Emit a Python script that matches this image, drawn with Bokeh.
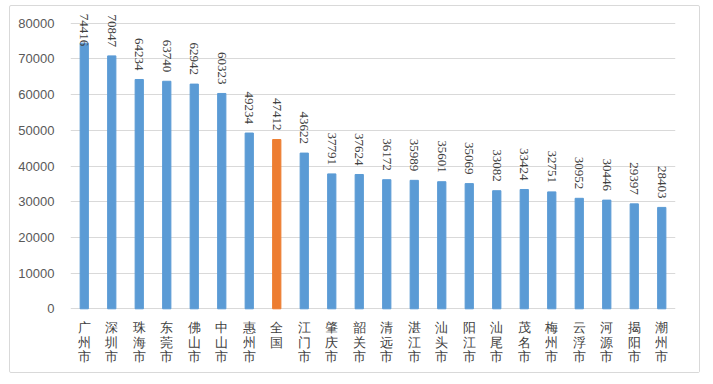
import numpy as np
from bokeh.plotting import figure
from bokeh.models import ColumnDataSource, LabelSet, Range1d, FixedTicker, NumeralTickFormatter
from bokeh.embed import file_html
from bokeh.resources import INLINE

cities = ["广州市", "深圳市", "珠海市", "东莞市", "佛山市", "中山市", "惠州市", "全国",
          "江门市", "肇庆市", "韶关市", "清远市", "湛江市", "汕头市", "阳江市", "汕尾市",
          "茂名市", "梅州市", "云浮市", "河源市", "揭阳市", "潮州市"]
values = [74416, 70847, 64234, 63740, 62942, 60323, 49234, 47412,
          43622, 37791, 37624, 36172, 35989, 35601, 35069, 33082,
          33424, 32751, 30952, 30446, 29397, 28403]
y_ticks = [0, 10000, 20000, 30000, 40000, 50000, 60000, 70000, 80000]

BLUE = "#5b9bd5"
ORANGE = "#ed7d31"
colors = [ORANGE if c == "全国" else BLUE for c in cities]
label_cap = 71000
label_y = [min(v, label_cap) for v in values]

src = ColumnDataSource(dict(x=cities, top=values, color=colors,
                            ly=label_y, txt=[str(v) for v in values],
                            zero=[0] * len(cities),
                            c0=[c[0] if len(c) > 0 else "" for c in cities],
                            c1=[c[1] if len(c) > 1 else "" for c in cities],
                            c2=[c[2] if len(c) > 2 else "" for c in cities]))

p = figure(x_range=cities, y_range=Range1d(-17000, 83000), width=691, height=368,
           output_backend="svg", toolbar_location=None,
           min_border_left=60, min_border_right=26, min_border_top=6, min_border_bottom=5)
p.styles = {"border": "1px solid #d9d9d9", "border-radius": "2px",
            "margin-left": "9px", "margin-top": "5px"}
p.outline_line_color = None
p.x_range.range_padding = 0

p.vbar(x="x", top="top", width=0.3, color="color", source=src)

labels = LabelSet(x="x", y="ly", text="txt", source=src, angle=-np.pi / 2,
                  text_align="right", text_baseline="middle", y_offset=9,
                  text_font="Liberation Sans", text_font_size="13px", text_color="#404040")
p.add_layout(labels)

for col, off in (("c0", -19), ("c1", -34), ("c2", -48)):
    p.add_layout(LabelSet(x="x", y="zero", text=col, source=src, y_offset=off,
                          text_align="center", text_baseline="middle",
                          text_font="Noto Sans CJK SC", text_font_size="13px",
                          text_color="#404040"))

p.yaxis.ticker = FixedTicker(ticks=y_ticks)
p.yaxis.formatter = NumeralTickFormatter(format="0")
p.yaxis.axis_line_color = None
p.yaxis.major_tick_line_color = None
p.yaxis.minor_tick_line_color = None
p.yaxis.major_label_text_font = "Liberation Sans"
p.yaxis.major_label_text_font_size = "13px"
p.yaxis.major_label_text_color = "#595959"
p.yaxis.major_label_standoff = 10

p.xaxis.visible = False

p.xgrid.grid_line_color = None
p.ygrid.grid_line_color = "#d9d9d9"
p.ygrid.ticker = FixedTicker(ticks=y_ticks)

open("out.html", "w").write(file_html(p, INLINE))
